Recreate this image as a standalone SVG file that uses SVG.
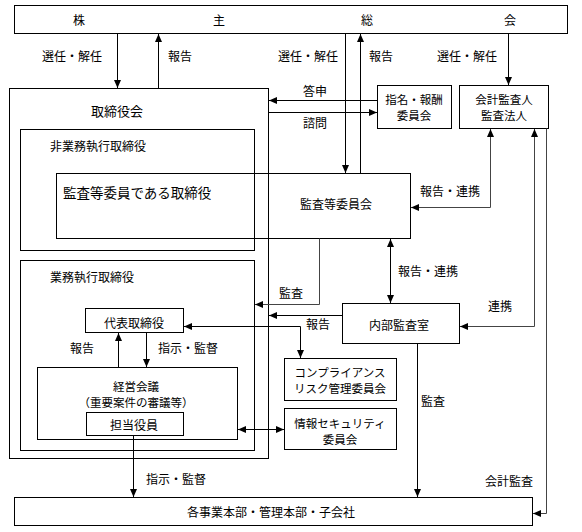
<svg xmlns="http://www.w3.org/2000/svg" width="582" height="532" viewBox="0 0 582 532">
<style>
text{font-family:"Noto Sans CJK JP","Noto Sans CJK SC",sans-serif;font-size:12px;fill:#000;dominant-baseline:central}
.m{text-anchor:middle}
.s{font-size:11.5px}
.box{fill:#fff;stroke:#000;stroke-width:1}
.fr{fill:none;stroke:#000;stroke-width:1}
.c{fill:none;stroke:#000;stroke-width:1}
.g{fill:none;stroke:#444;stroke-width:1}
.big{font-size:13.5px}
</style>
<defs>
<marker id="ae" markerUnits="userSpaceOnUse" markerWidth="8" markerHeight="8" viewBox="0 0 8 8" refX="8" refY="4" orient="auto"><path d="M0,0.5 L8,4 L0,7.5 z" fill="#000"/></marker>
<marker id="as" markerUnits="userSpaceOnUse" markerWidth="8" markerHeight="8" viewBox="0 0 8 8" refX="0" refY="4" orient="auto"><path d="M8,0.5 L0,4 L8,7.5 z" fill="#000"/></marker>
</defs>
<rect width="582" height="532" fill="#fff"/>

<g id="shareholders">
<rect class="box" x="14.5" y="5.5" width="553" height="28"/>
<text class="m" x="79" y="19">株</text>
<text class="m" x="219" y="19">主</text>
<text class="m" x="367" y="19">総</text>
<text class="m" x="510" y="19">会</text>
</g>

<g id="board">
<rect class="fr" x="9.5" y="88.5" width="259" height="370"/>
<text class="m" x="117" y="110" style="font-size:13px">取締役会</text>
</g>

<g id="non-exec">
<rect class="fr" x="20.5" y="129.5" width="234" height="121"/>
<text x="50" y="145">非業務執行取締役</text>
</g>

<g id="audit-committee">
<rect class="fr" x="56.5" y="173.5" width="354" height="65"/>
<text class="big" x="63" y="192">監査等委員である取締役</text>
<text class="m" x="336" y="203">監査等委員会</text>
</g>

<g id="exec">
<rect class="fr" x="20.5" y="260.5" width="234" height="190"/>
<text x="50" y="276">業務執行取締役</text>
</g>

<g id="ceo">
<rect class="box" x="85.5" y="308.5" width="98" height="24"/>
<text class="m" x="134" y="322">代表取締役</text>
</g>

<g id="management-meeting">
<rect class="box" x="37.5" y="367.5" width="200" height="72"/>
<text class="m s" x="136" y="386">経営会議</text>
<text class="m s" x="136" y="402">（重要案件の審議等）</text>
</g>

<g id="officer">
<rect class="box" x="86.5" y="412.5" width="97" height="23"/>
<text class="m" x="134" y="424">担当役員</text>
</g>

<g id="nomination">
<rect class="box" x="377.5" y="85.5" width="74" height="43"/>
<text class="m s" x="414" y="99">指名・報酬</text>
<text class="m s" x="414" y="115">委員会</text>
</g>

<g id="auditor">
<rect class="box" x="459.5" y="85.5" width="89" height="43"/>
<text class="m s" x="504" y="99">会計監査人</text>
<text class="m s" x="504" y="115">監査法人</text>
</g>

<g id="internal-audit">
<rect class="box" x="342.5" y="303.5" width="117" height="40"/>
<text class="m" x="399" y="324">内部監査室</text>
</g>

<g id="compliance">
<rect class="box" x="284.5" y="358.5" width="112" height="42"/>
<text class="m s" x="340" y="372">コンプライアンス</text>
<text class="m s" x="340" y="388">リスク管理委員会</text>
</g>

<g id="infosec">
<rect class="box" x="284.5" y="408.5" width="112" height="41"/>
<text class="m s" x="340" y="423">情報セキュリティ</text>
<text class="m s" x="340" y="439">委員会</text>
</g>

<g id="divisions">
<rect class="box" x="14.5" y="497.5" width="518" height="28"/>
<text class="m" x="271" y="511">各事業本部・管理本部・子会社</text>
</g>

<g id="connectors">
<path class="c" d="M117.5,33.5 V88" marker-end="url(#ae)"/>
<path class="c" d="M158.5,88.5 V34" marker-end="url(#ae)"/>
<path class="c" d="M345.5,33.5 V173" marker-end="url(#ae)"/>
<path class="c" d="M360.5,173.5 V34" marker-end="url(#ae)"/>
<path class="c" d="M508.5,33.5 V85" marker-end="url(#ae)"/>
<path class="c" d="M377.5,100.5 H269" marker-end="url(#ae)"/>
<path class="c" d="M268.5,112.5 H377" marker-end="url(#ae)"/>
<path class="g" d="M411,207.5 H490.5 V129" marker-start="url(#as)" marker-end="url(#ae)"/>
<path class="g" d="M319.5,238.5 V304.5 H255" marker-end="url(#ae)"/>
<path class="c" d="M390.5,239 V303" marker-start="url(#as)" marker-end="url(#ae)"/>
<path class="c" d="M342.5,315.5 H269" marker-end="url(#ae)"/>
<path class="c" d="M184,326.5 H300.5 V358" marker-start="url(#as)" marker-end="url(#ae)"/>
<path class="c" d="M238,429.5 H284" marker-start="url(#as)" marker-end="url(#ae)"/>
<path class="c" d="M118.5,367.5 V333" marker-end="url(#ae)"/>
<path class="c" d="M146.5,332.5 V367" marker-end="url(#ae)"/>
<path class="c" d="M133.5,435.5 V497" marker-end="url(#ae)"/>
<path class="c" d="M417.5,343.5 V497" marker-end="url(#ae)"/>
<path class="g" d="M534.5,129 V326.5 H460" marker-start="url(#as)" marker-end="url(#ae)"/>
<path class="g" d="M546.5,128.5 V513.5 H533" marker-end="url(#ae)"/>
<text class="m" x="72" y="55">選任・解任</text>
<text x="168" y="55">報告</text>
<text class="m" x="308" y="55">選任・解任</text>
<text x="369" y="55">報告</text>
<text class="m" x="467" y="55">選任・解任</text>
<text class="m" x="315" y="90">答申</text>
<text class="m" x="315" y="122">諮問</text>
<text class="m" x="450" y="190">報告・連携</text>
<text class="m" x="428" y="270">報告・連携</text>
<text class="m" x="291" y="292">監査</text>
<text class="m" x="318" y="323">報告</text>
<text class="m" x="500" y="305">連携</text>
<text class="m" x="82" y="347">報告</text>
<text class="m" x="188" y="347">指示・監督</text>
<text class="m" x="433" y="400">監査</text>
<text class="m" x="176" y="478">指示・監督</text>
<text class="m" x="509" y="480">会計監査</text>
</g>
</svg>
